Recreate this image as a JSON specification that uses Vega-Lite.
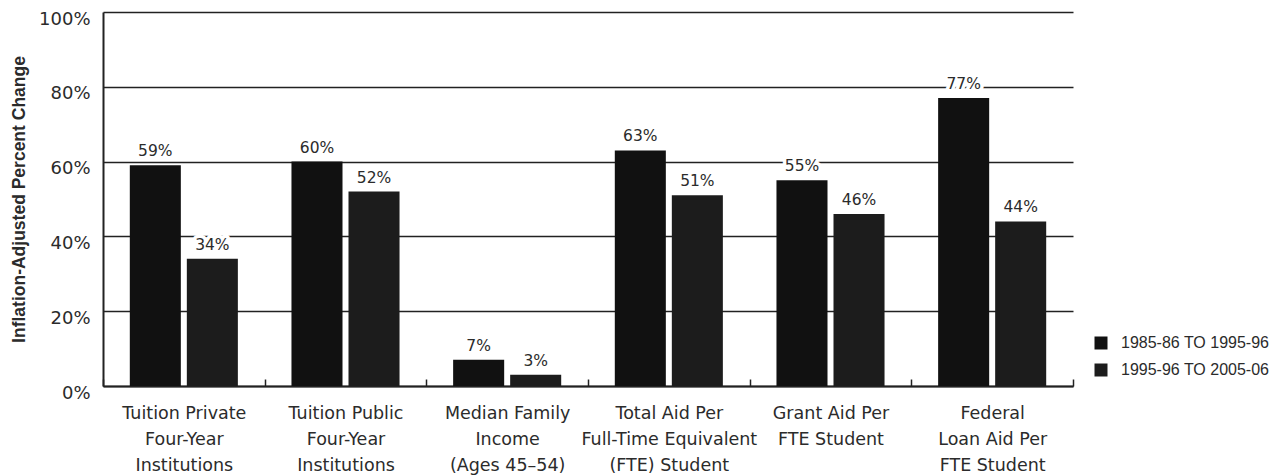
{
  "$schema": "https://vega.github.io/schema/vega-lite/v6.json",
  "width": 970,
  "height": 374,
  "autosize": {"type": "none"},
  "padding": {"left": 103, "top": 12, "right": 214, "bottom": 90},
  "background": "#ffffff",
  "config": {
    "view": {"stroke": null},
    "font": "DejaVu Sans"
  },
  "data": {
    "values": [
      {"cat": "Tuition Private|Four-Year|Institutions", "period": "1985-86 TO 1995-96", "value": 59},
      {"cat": "Tuition Private|Four-Year|Institutions", "period": "1995-96 TO 2005-06", "value": 34},
      {"cat": "Tuition Public|Four-Year|Institutions", "period": "1985-86 TO 1995-96", "value": 60},
      {"cat": "Tuition Public|Four-Year|Institutions", "period": "1995-96 TO 2005-06", "value": 52},
      {"cat": "Median Family|Income|(Ages 45–54)", "period": "1985-86 TO 1995-96", "value": 7},
      {"cat": "Median Family|Income|(Ages 45–54)", "period": "1995-96 TO 2005-06", "value": 3},
      {"cat": "Total Aid Per|Full-Time Equivalent|(FTE) Student", "period": "1985-86 TO 1995-96", "value": 63},
      {"cat": "Total Aid Per|Full-Time Equivalent|(FTE) Student", "period": "1995-96 TO 2005-06", "value": 51},
      {"cat": "Grant Aid Per|FTE Student", "period": "1985-86 TO 1995-96", "value": 55},
      {"cat": "Grant Aid Per|FTE Student", "period": "1995-96 TO 2005-06", "value": 46},
      {"cat": "Federal|Loan Aid Per|FTE Student", "period": "1985-86 TO 1995-96", "value": 77},
      {"cat": "Federal|Loan Aid Per|FTE Student", "period": "1995-96 TO 2005-06", "value": 44}
    ]
  },
  "encoding": {
    "x": {
      "field": "cat",
      "type": "nominal",
      "sort": null,
      "scale": {"paddingInner": 0, "paddingOuter": 0},
      "axis": {
        "title": null,
        "labelAngle": 0,
        "labelExpr": "split(datum.label, '|')",
        "labelFont": "DejaVu Sans",
        "labelFontSize": 17.5,
        "labelColor": "#2b2b2b",
        "labelLineHeight": 26,
        "labelBaseline": "top",
        "labelPadding": 25,
        "tickBand": "extent",
        "tickSize": -7,
        "tickWidth": 1.5,
        "tickColor": "#222222",
        "domainColor": "#222222",
        "domainWidth": 2
      }
    },
    "xOffset": {
      "field": "period",
      "type": "nominal",
      "scale": {"paddingInner": 0.105, "paddingOuter": 0.47}
    },
    "y": {
      "field": "value",
      "type": "quantitative",
      "scale": {"domain": [0, 100], "nice": false}
    }
  },
  "layer": [
    {
      "mark": {"type": "bar"},
      "encoding": {
        "y": {
          "field": "value",
          "type": "quantitative",
          "scale": {"domain": [0, 100], "nice": false},
          "axis": {
            "title": "Inflation-Adjusted Percent Change",
            "titleFont": "Liberation Sans",
            "titleFontSize": 17.5,
            "titleFontWeight": "bold",
            "titleColor": "#2b2b2b",
            "titlePadding": 10,
            "values": [0, 20, 40, 60, 80, 100],
            "labelExpr": "datum.value + '%'",
            "labelFont": "DejaVu Sans",
            "labelFontSize": 18,
            "labelColor": "#2b2b2b",
            "labelPadding": 13,
            "labelOffset": 7,
            "ticks": false,
            "grid": true,
            "gridColor": "#222222",
            "gridWidth": 1.4,
            "domainColor": "#222222",
            "domainWidth": 2
          }
        },
        "color": {
          "field": "period",
          "type": "nominal",
          "scale": {"range": ["#111111", "#1c1c1c"]},
          "legend": {
            "title": null,
            "orient": "none",
            "legendX": 990,
            "legendY": 323,
            "symbolType": "square",
            "symbolSize": 169,
            "symbolStrokeWidth": 0,
            "labelFont": "Liberation Sans",
            "labelFontSize": 16,
            "labelColor": "#2b2b2b",
            "labelOffset": 12,
            "rowPadding": 11
          }
        }
      }
    },
    {
      "mark": {
        "type": "text",
        "baseline": "alphabetic",
        "dy": -9,
        "fontSize": 15.5,
        "font": "DejaVu Sans",
        "color": "#ffffff",
        "stroke": "#ffffff",
        "strokeWidth": 7,
        "strokeJoin": "round",
        "text": {"expr": "datum.value + '%'"}
      },
      "encoding": {"detail": {"field": "period"}}
    },
    {
      "mark": {
        "type": "text",
        "baseline": "alphabetic",
        "dy": -9,
        "fontSize": 15.5,
        "font": "DejaVu Sans",
        "color": "#2b2b2b",
        "text": {"expr": "datum.value + '%'"}
      },
      "encoding": {"detail": {"field": "period"}}
    }
  ]
}
